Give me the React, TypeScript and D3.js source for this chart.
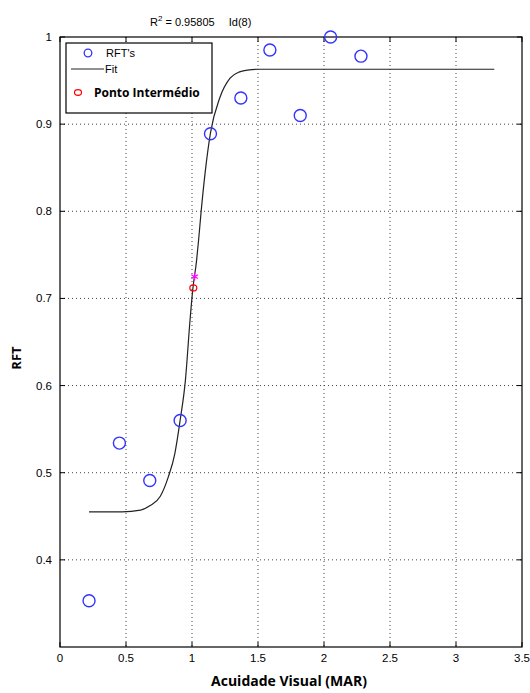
import React from 'react';
import * as d3 from 'd3';

const WIDTH = 530;
const HEIGHT = 693;
const MARGIN = { top: 37, right: 8, bottom: 46, left: 60 };

// observed points (acuidade visual vs RFT)
const rftX = [0.22, 0.45, 0.68, 0.91, 1.14, 1.37, 1.59, 1.82, 2.05, 2.28];
const rftY = [0.353, 0.534, 0.491, 0.560, 0.889, 0.930, 0.985, 0.910, 1.0, 0.978];

// fitted curve
const fitX = [0.22, 0.47, 0.61, 0.68, 0.76, 0.82, 0.87, 0.91, 0.95, 0.985, 1.005, 1.035, 1.05, 1.07, 1.10, 1.14, 1.21, 1.29, 1.36, 1.42, 1.5, 3.29];
const fitY = [0.455, 0.455, 0.457, 0.462, 0.473, 0.495, 0.522, 0.560, 0.606, 0.675, 0.709, 0.744, 0.767, 0.801, 0.845, 0.890, 0.930, 0.953, 0.960, 0.962, 0.963, 0.963];

// intermediate point and its marker
const midPoint = { x: 1.01, y: 0.712 };
const starPoint = { x: 1.02, y: 0.725 };

const xTicks = [0, 0.5, 1, 1.5, 2, 2.5, 3, 3.5];
const yTicks = [0.4, 0.5, 0.6, 0.7, 0.8, 0.9, 1];

const TICK_FONT = '"Liberation Sans Narrow", "Liberation Sans", Arial, sans-serif';

export default function App() {
  const innerW = WIDTH - MARGIN.left - MARGIN.right;
  const innerH = HEIGHT - MARGIN.top - MARGIN.bottom;

  const x = d3.scaleLinear().domain([0, 3.5]).range([0, innerW]);
  const y = d3.scaleLinear().domain([0.3, 1]).range([innerH, 0]);

  const fitLine = d3.line<number>()
    .x((d, i) => x(fitX[i]))
    .y((d) => y(d))
    .curve(d3.curveMonotoneX);

  const star = d3.symbol().type(d3.symbolAsterisk).size(40)();

  return <svg width={WIDTH} height={HEIGHT} style={{ position: 'absolute', left: 0, top: 0, background: '#fff' }}>
    <text x={150} y={26} style={{ fontFamily: 'Liberation Sans, Arial, sans-serif', fontSize: 11 }}>
      <tspan>R</tspan><tspan dy={-5} style={{ fontSize: 8 }}>2</tspan><tspan dy={5}> = 0.95805</tspan>
      <tspan dx={14}>Id(8)</tspan>
    </text>
    <g transform={`translate(${MARGIN.left},${MARGIN.top})`}>
      {/* grid */}
      {xTicks.slice(1, -1).map((t) =>
        <line key={'gx' + t} x1={x(t)} x2={x(t)} y1={0} y2={innerH} stroke='#444' strokeWidth={1} strokeDasharray='1,3' />
      )}
      {yTicks.slice(0, -1).map((t) =>
        <line key={'gy' + t} x1={0} x2={innerW} y1={y(t)} y2={y(t)} stroke='#444' strokeWidth={1} strokeDasharray='1,3' />
      )}
      {/* ticks inside on all sides */}
      {xTicks.map((t) => <g key={'tx' + t}>
        <line x1={x(t)} x2={x(t)} y1={innerH} y2={innerH - 5} stroke='#000' />
        <line x1={x(t)} x2={x(t)} y1={0} y2={5} stroke='#000' />
        <text x={x(t)} y={innerH + 15} textAnchor='middle' style={{ fontFamily: TICK_FONT, fontSize: 11.5 }}>{t}</text>
      </g>)}
      {yTicks.map((t) => <g key={'ty' + t}>
        <line x1={0} x2={5} y1={y(t)} y2={y(t)} stroke='#000' />
        <line x1={innerW} x2={innerW - 5} y1={y(t)} y2={y(t)} stroke='#000' />
        <text x={-8} y={y(t)} dy='0.35em' textAnchor='end' style={{ fontFamily: TICK_FONT, fontSize: 11.5 }}>{t}</text>
      </g>)}
      <rect x={0} y={0} width={innerW} height={innerH} fill='none' stroke='#000' strokeWidth={1.2} />

      <path d={fitLine(fitY) || ''} fill='none' stroke='#222' strokeWidth={1.2} />

      {rftX.map((v, i) =>
        <circle key={i} cx={x(v)} cy={y(rftY[i])} r={6} fill='none' stroke='#3333ff' strokeWidth={1.4} />
      )}
      <ellipse cx={x(midPoint.x)} cy={y(midPoint.y)} rx={3.5} ry={3} fill='none' stroke='#ff0000' strokeWidth={1.2} />
      <path d={star || ''} transform={`translate(${x(starPoint.x)},${y(starPoint.y)})`} fill='none' stroke='#ff00ff' strokeWidth={1.2} />

      {/* legend */}
      <g transform='translate(6,6)'>
        <rect x={0} y={0} width={146} height={70} fill='#fff' stroke='#000' strokeWidth={1.2} />
        <circle cx={22} cy={10} r={3.8} fill='none' stroke='#3333ff' strokeWidth={1.3} />
        <text x={40} y={14} style={{ fontFamily: 'Liberation Sans, Arial, sans-serif', fontSize: 11 }}>RFT's</text>
        <line x1={5} x2={38} y1={26} y2={26} stroke='#222' strokeWidth={1.2} />
        <text x={39} y={30} style={{ fontFamily: 'Liberation Sans, Arial, sans-serif', fontSize: 11 }}>Fit</text>
        <ellipse cx={12} cy={49.5} rx={3.5} ry={2.8} fill='none' stroke='#ff0000' strokeWidth={1.2} />
        <text x={28} y={54} style={{ fontFamily: '"Open Sans", sans-serif', fontSize: 12, fontWeight: 'bold' }}>Ponto Intermédio</text>
      </g>
    </g>
    <text x={289} y={686} textAnchor='middle' style={{ fontFamily: '"Open Sans", sans-serif', fontSize: 14, fontWeight: 'bold' }}>Acuidade Visual (MAR)</text>
    <text transform='translate(21,358) rotate(-90)' textAnchor='middle' style={{ fontFamily: '"Open Sans", sans-serif', fontSize: 13, fontWeight: 'bold' }}>RFT</text>
  </svg>;
}
